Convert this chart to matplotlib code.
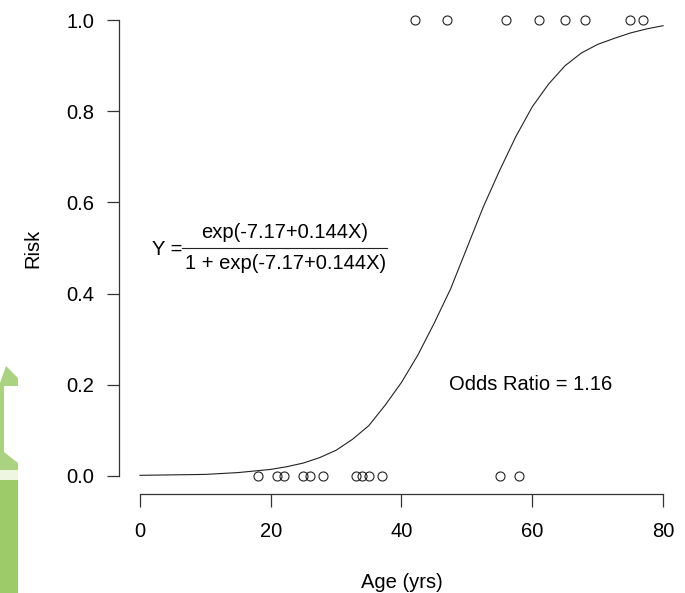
import matplotlib.pyplot as plt
from matplotlib.patches import Polygon, Rectangle

# datos
edad_0 = [18, 21, 22, 25, 26, 28, 33, 34, 35, 37, 55, 58]
edad_1 = [42, 47, 56, 61, 65, 68, 75, 77]
curva_x = [0, 5, 10, 15, 20, 22.5, 25, 27.5, 30, 32.5, 35, 37.5, 40, 42.5, 45,
           47.5, 50, 52.5, 55, 57.5, 60, 62.5, 65, 67.5, 70, 72.5, 75, 77.5, 80]
curva_y = [0.001, 0.002, 0.003, 0.007, 0.014, 0.020, 0.028, 0.040, 0.056, 0.080,
           0.110, 0.155, 0.205, 0.265, 0.335, 0.41, 0.50, 0.59, 0.67, 0.745, 0.81,
           0.86, 0.90, 0.928, 0.947, 0.96, 0.972, 0.981, 0.988]
x_ticks = [0, 20, 40, 60, 80]
y_ticks = [0.0, 0.2, 0.4, 0.6, 0.8, 1.0]

plt.rcParams['font.family'] = ['Liberation Sans', 'DejaVu Sans']

W, H = 685, 593
fs = 14.5
fig = plt.figure(figsize=(W / 100, H / 100), dpi=100)
ax = fig.add_axes([119 / W, 1 - 494 / H, (684 - 119) / W, (494 - 2) / H])

# fondo verde de la izquierda (marca de agua)
def px(pts):
    return [(x / W, 1 - y / H) for x, y in pts]

verde = '#9dcb6a'
fig.add_artist(Rectangle((0, 1 - 593 / H), 18 / W, 113 / H, transform=fig.transFigure,
                         color=verde, lw=0, zorder=0))
fig.add_artist(Rectangle((0, 1 - 480 / H), 18 / W, 10 / H, transform=fig.transFigure,
                         color='#eef6e2', lw=0, zorder=0))
fig.add_artist(Polygon(px([(0, 383), (6, 366), (18, 378), (18, 386), (4, 386), (4, 452),
                           (18, 463), (18, 470), (0, 470)]),
                       transform=fig.transFigure, color=verde, lw=0, zorder=0, alpha=0.85))

# curva y puntos
ax.plot(curva_x, curva_y, color='#222222', lw=0.8)
ax.plot(edad_0, [0] * len(edad_0), 'o', mfc='none', mec='#222222', ms=6.5, mew=0.8)
ax.plot(edad_1, [1] * len(edad_1), 'o', mfc='none', mec='#222222', ms=6.5, mew=0.8)

ax.set_xlim(-3.2, 83.2)
ax.set_ylim(-0.04, 1.04)
ax.set_xticks(x_ticks)
ax.set_xticklabels([str(t) for t in x_ticks])
ax.set_yticks(y_ticks)
ax.set_yticklabels([f'{t:.1f}' for t in y_ticks])

for s in ['top', 'right']:
    ax.spines[s].set_visible(False)
ax.spines['left'].set_bounds(0, 1)
ax.spines['bottom'].set_bounds(0, 80)
for s in ['left', 'bottom']:
    ax.spines[s].set_color('#333333')
    ax.spines[s].set_linewidth(0.9)
ax.tick_params(axis='both', length=9, width=0.9, color='#333333', labelsize=fs)
ax.tick_params(axis='x', pad=11)
ax.tick_params(axis='y', pad=9)
ax.patch.set_alpha(0)

fig.text(402 / W, 1 - 582 / H, 'Age (yrs)', ha='center', va='center', fontsize=fs)
fig.text(33 / W, 1 - 248 / H, 'Risk', ha='center', va='center', rotation=90, fontsize=fs)

# formula
ax.text(1.8, 0.496, 'Y =', ha='left', va='center', fontsize=fs)
ax.text(22.2, 0.535, 'exp(-7.17+0.144X)', ha='center', va='center', fontsize=fs)
ax.text(22.2, 0.467, '1 + exp(-7.17+0.144X)', ha='center', va='center', fontsize=fs)
ax.plot([6.4, 37.8], [0.5, 0.5], color='#222222', lw=0.8)

ax.text(59.8, 0.2, 'Odds Ratio = 1.16', ha='center', va='center', fontsize=fs)

plt.savefig('out.png', dpi=100)
